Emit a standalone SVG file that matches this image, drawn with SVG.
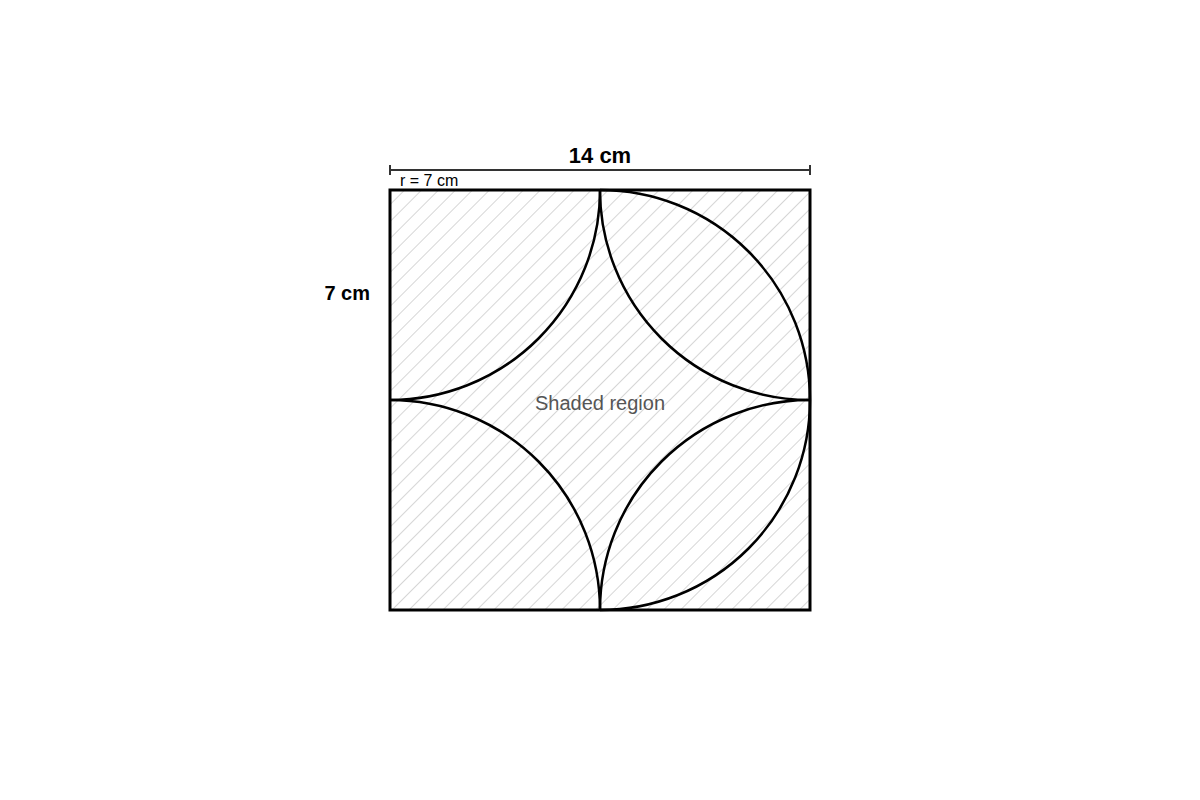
<svg xmlns="http://www.w3.org/2000/svg" width="1200" height="800" viewBox="0 0 1200 800">
<defs>
<pattern id="hatch" width="12" height="12" patternUnits="userSpaceOnUse" patternTransform="rotate(45)">
<line x1="0" y1="0" x2="0" y2="12" stroke="#c4c4c4" stroke-width="1.4"/>
</pattern>
</defs>
<style>
.arc{fill:none;stroke:#000;stroke-width:2.5}
.dim{stroke:#333;stroke-width:2;fill:none}
.lbl{font-family:"Liberation Sans",Arial,sans-serif}
</style>
<rect width="1200" height="800" fill="#fff"/>
<g id="square">
<rect x="390" y="190" width="420" height="420" fill="url(#hatch)" stroke="#000" stroke-width="3"/>
</g>
<g id="arcs">
<path class="arc" d="M600,190 A210,210 0 0 1 390,400"/>
<path class="arc" d="M390,400 A210,210 0 0 1 600,610"/>
<path class="arc" d="M600,190 A210,210 0 0 0 810,400"/>
<path class="arc" d="M810,400 A210,210 0 0 0 600,610"/>
<path class="arc" d="M600,190 A210,210 0 0 1 810,400"/>
<path class="arc" d="M810,400 A210,210 0 0 1 600,610"/>
</g>
<g id="dimension">
<line class="dim" x1="390" y1="170" x2="810" y2="170"/>
<line class="dim" x1="390" y1="165" x2="390" y2="175"/>
<line class="dim" x1="810" y1="165" x2="810" y2="175"/>
</g>
<g id="labels">
<text class="lbl" x="600" y="163" text-anchor="middle" font-size="22" font-weight="bold">14 cm</text>
<text class="lbl" x="400" y="186" font-size="16">r = 7 cm</text>
<text class="lbl" x="370" y="300" text-anchor="end" font-size="20" font-weight="bold">7 cm</text>
<text class="lbl" x="600" y="410" text-anchor="middle" font-size="20" fill="#555">Shaded region</text>
</g>
</svg>
